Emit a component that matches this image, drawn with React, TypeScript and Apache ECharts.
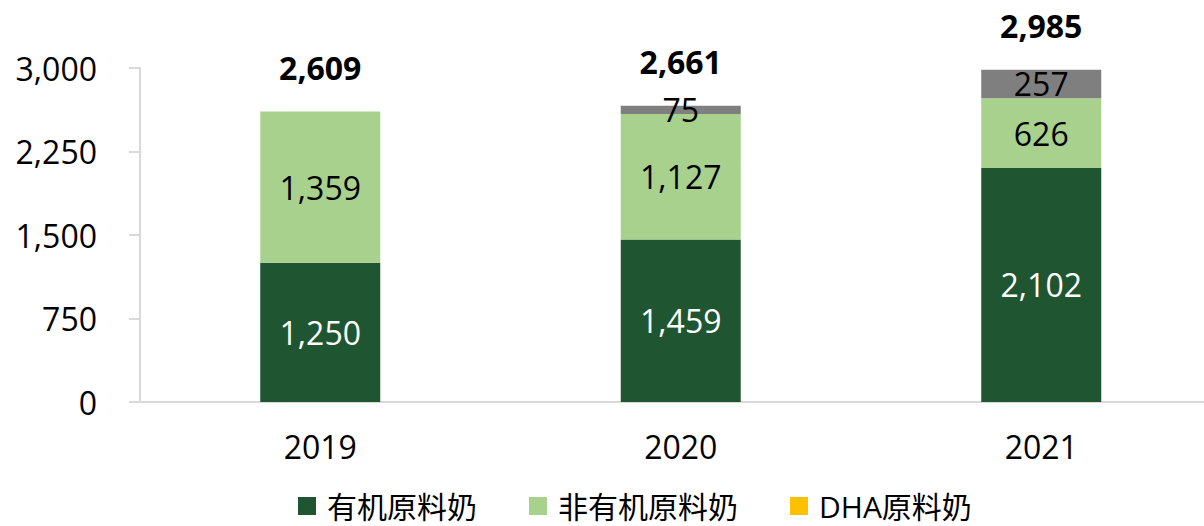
import React, { useEffect, useRef } from "react";
import * as echarts from "echarts";

const categories = ["2019", "2020", "2021"];
const organicValues = [1250, 1459, 2102];
const nonOrganicValues = [1359, 1127, 626];
const dhaValues: (number | null)[] = [null, 75, 257];
const totalValues = [2609, 2661, 2985];
const yTicks = { min: 0, max: 3000, interval: 750 };

const FONT = "'Open Sans', 'Noto Sans CJK SC', sans-serif";
const fmt = (v: number) => v.toLocaleString("en-US");

export default function App() {
  const ref = useRef<HTMLDivElement>(null);
  useEffect(() => {
    document.body.style.margin = "0";
    document.body.style.overflow = "hidden";
    if (!ref.current) return;
    const chart = echarts.init(ref.current, null, { renderer: "svg" });
    const insideLabel = (color: string) => ({
      show: true,
      position: "inside" as const,
      color,
      fontSize: 32,
      fontFamily: FONT,
      formatter: (p: any) => (p.value == null ? "" : fmt(p.value)),
    });
    chart.setOption({
      animation: false,
      textStyle: { fontFamily: FONT },
      grid: { left: 140, top: 68, width: 1081.5, height: 334 },
      legend: {
        left: 298,
        top: 491,
        icon: "rect",
        itemWidth: 18,
        itemHeight: 18,
        itemGap: 52,
        padding: 0,
        textStyle: {
          fontSize: 30,
          lineHeight: 30,
          fontFamily: FONT,
          color: "#000",
          padding: [0, 0, 0, 6],
        },
        data: [
          { name: "有机原料奶" },
          { name: "非有机原料奶" },
          { name: "DHA原料奶", itemStyle: { color: "#FFC000" } },
        ],
      },
      xAxis: {
        type: "category",
        data: categories,
        axisLine: { show: true, lineStyle: { color: "#D9D9D9", width: 2 } },
        axisTick: { show: false },
        axisLabel: { fontSize: 32, color: "#000", margin: 28, fontFamily: FONT },
      },
      yAxis: {
        type: "value",
        min: yTicks.min,
        max: yTicks.max,
        interval: yTicks.interval,
        splitLine: { show: false },
        axisLine: { show: true, lineStyle: { color: "#D9D9D9", width: 2 } },
        axisTick: { show: true, length: 11, lineStyle: { color: "#D9D9D9", width: 2 } },
        axisLabel: {
          fontSize: 32,
          color: "#000",
          margin: 43,
          fontFamily: FONT,
          formatter: (v: number) => fmt(v),
        },
      },
      series: [
        {
          name: "有机原料奶",
          type: "bar",
          stack: "s",
          barWidth: 120,
          data: organicValues,
          itemStyle: { color: "#1F5631" },
          label: insideLabel("#fff"),
        },
        {
          name: "非有机原料奶",
          type: "bar",
          stack: "s",
          barWidth: 120,
          data: nonOrganicValues,
          itemStyle: { color: "#A9D18E" },
          label: insideLabel("#000"),
        },
        {
          name: "DHA原料奶",
          type: "bar",
          stack: "s",
          barWidth: 120,
          data: dhaValues,
          itemStyle: { color: "#7F7F7F" },
          label: insideLabel("#000"),
        },
        {
          name: "合计",
          type: "bar",
          barWidth: 120,
          barGap: "-100%",
          silent: true,
          data: totalValues,
          itemStyle: { color: "rgba(0,0,0,0)" },
          label: {
            show: true,
            position: "top",
            distance: 28,
            color: "#000",
            fontSize: 32,
            fontWeight: "bold",
            fontFamily: FONT,
            formatter: (p: any) => fmt(p.value),
          },
          z: 1,
        },
      ],
    });
    return () => chart.dispose();
  }, []);
  return (
    <div
      ref={ref}
      style={{ position: "fixed", left: 0, top: 0, width: 1222, height: 526, background: "#fff" }}
    />
  );
}
